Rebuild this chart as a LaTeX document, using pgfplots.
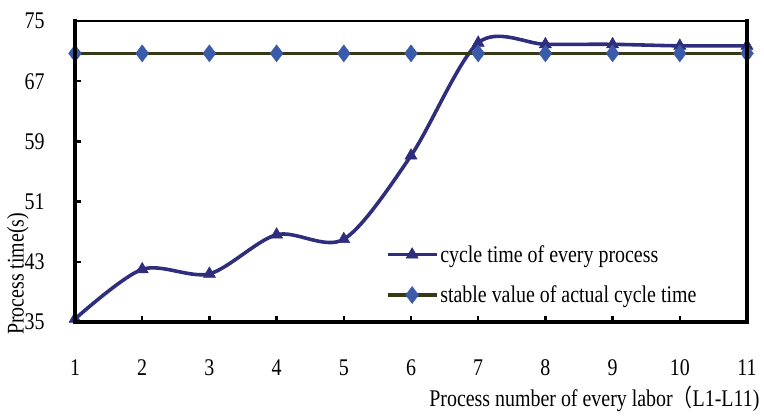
\documentclass[border=0pt]{standalone}
\usepackage{fontspec}
\setmainfont{Liberation Serif}
\newfontfamily\cjk{Noto Sans CJK SC}
\usepackage{graphicx}
\usepackage{pgfplots}
\pgfplotsset{compat=1.18}
\definecolor{navy}{RGB}{46,46,124}
\definecolor{olivedark}{RGB}{52,58,22}
\definecolor{dblue}{RGB}{58,90,170}
\newcommand{\tall}[1]{\scalebox{1}[1.2]{#1}}
\begin{document}
\begin{tikzpicture}
\begin{axis}[
name=ax,
scale only axis,
width=672bp, height=301bp,
xmin=1, xmax=11, ymin=35, ymax=75,
xtick={1,...,11},
ytick={35,43,51,59,67,75},
tick align=inside,
xtick pos=bottom, ytick pos=left,
major tick length=6bp,
tick style={line width=2.6pt,black},
axis line style={draw=black, line width=1.5pt},
/pgf/number format/assume math mode=true,
ticklabel style={font=\fontsize{20}{24}\selectfont},
label style={font=\fontsize{20}{24}\selectfont},
xticklabel={\tall{\pgfmathprintnumber{\tick}}},
yticklabel={\tall{\pgfmathprintnumber{\tick}}},
xticklabel style={yshift=-34bp},
yticklabel style={xshift=-27bp},
ylabel={\tall{Process time(s)}},
ylabel style={at={(axis description cs:-0.085,0.16)}, anchor=center, rotate=0},
xlabel={\tall{Process number of every labor\smash{\cjk（}L1-L11)}},
xlabel style={at={(axis description cs:1.0238,-0.262)}, anchor=east},
legend style={draw=none, fill=none, at={(axis description cs:0.458,0.268)}, anchor=north west,
  font=\fontsize{20}{24}\selectfont, row sep=18bp, cells={anchor=west}},
legend image code/.code={\draw[mark repeat=2,mark phase=2] plot coordinates {(0cm,0cm) (0.86cm,0cm) (1.72cm,0cm)};},
extra description/.code={
  \path (-0.1116,-0.3056) rectangle (1.0253,1.0698);
},
]
\addplot[navy, line width=3.6pt, smooth, mark=triangle*, mark size=7bp, mark options={fill=navy,draw=navy,line width=0.5pt}] coordinates {
	(1,35.4)
	(2,42.0)
	(3,41.4)
	(4,46.6)
	(5,46.0)
	(6,57.1)
	(7,72.1)
	(8,71.9)
	(9,71.9)
	(10,71.7)
	(11,71.7)
};
\addlegendentry{\tall{cycle time of every process}}
\addplot[olivedark, line width=3.6pt, mark=diamond*, mark size=8.5bp, mark options={fill=dblue,draw=dblue,line width=0.5pt}] coordinates {
	(1,70.7)
	(2,70.7)
	(3,70.7)
	(4,70.7)
	(5,70.7)
	(6,70.7)
	(7,70.7)
	(8,70.7)
	(9,70.7)
	(10,70.7)
	(11,70.7)
};
\addlegendentry{\tall{stable value of actual cycle time}}
\end{axis}
\draw[black, line width=3.6pt, line cap=rect] (ax.north west) -- (ax.south west) -- (ax.south east) -- (ax.north east);
\end{tikzpicture}
\end{document}
